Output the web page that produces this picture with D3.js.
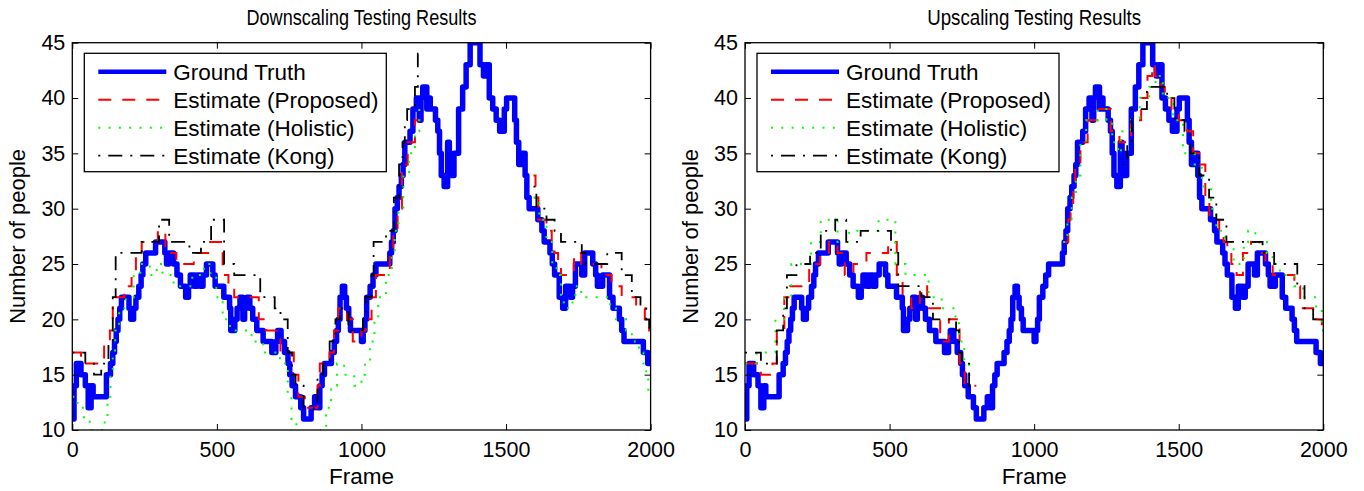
<!DOCTYPE html>
<html>
<head>
<meta charset="utf-8">
<script src="https://cdnjs.cloudflare.com/ajax/libs/d3/7.8.5/d3.min.js"></script>
<style>
body { margin: 0; background: #fff; }
svg { display: block; }
text { font-family: "Liberation Sans", Arial, Helvetica, sans-serif; fill: #000; }
</style>
</head>
<body>
<div id="divcont"></div>
<script>
// axis ticks and legend names
var frameTicks = [0, 500, 1000, 1500, 2000]
var countTicks = [10, 15, 20, 25, 30, 35, 40, 45]
var seriesNames = ["Ground Truth", "Estimate (Proposed)", "Estimate (Holistic)", "Estimate (Kong)"]
var panelTitles = ["Downscaling Testing Results", "Upscaling Testing Results"]

// [frame, count] step points, null = frames not tested
var groundTruth = [[0,11],[6,14],[14,16],[30,15],[45,14],[55,12],[65,14],[72,13],[118,15],[132,16],[140,17],[146,18],[152,19],[158,20],[164,21],[170,22],[196,21],[202,20],[212,21],[220,22],[230,23],[238,24],[244,25],[254,26],[288,27],[320,26],[326,25],[334,26],[350,25],[362,24],[374,23],[392,22],[402,23],[408,24],[422,23],[432,24],[442,23],[452,24],[464,25],[486,24],[494,23],[524,22],[544,21],[548,19],[562,20],[570,21],[580,22],[590,20],[596,21],[604,22],[614,21],[624,20],[638,19],[660,18],[690,17],[704,18],[710,19],[722,18],[734,17],[746,16],[752,15],[760,14],[772,13],[790,12],[800,11],[826,12],[838,13],[848,12],[856,14],[864,15],[872,16],[896,17],[906,18],[914,19],[920,20],[926,22],[934,23],[942,22],[948,21],[956,20],[962,19],[1000,18],[1006,19],[1012,20],[1018,22],[1030,23],[1040,24],[1050,25],[1098,26],[1104,27],[1110,28],[1116,30],[1124,31],[1130,32],[1138,33],[1144,34],[1150,36],[1168,37],[1178,39],[1190,40],[1200,38],[1206,40],[1212,41],[1226,39],[1232,40],[1238,39],[1256,38],[1264,37],[1270,35],[1276,33],[1286,32],[1298,36],[1304,33],[1320,35],[1336,39],[1350,41],[1362,43],[1376,45],[1410,43],[1422,42],[1432,43],[1442,40],[1454,39],[1466,38],[1478,37],[1494,39],[1502,40],[1530,38],[1536,36],[1544,34],[1556,35],[1566,33],[1572,31],[1580,30],[1610,29],[1624,28],[1632,27],[1652,26],[1660,25],[1668,24],[1684,22],[1696,21],[1706,23],[1722,22],[1730,23],[1740,25],[1762,24],[1772,26],[1800,25],[1810,24],[1816,23],[1834,24],[1858,22],[1870,21],[1892,20],[1900,19],[1908,18],[1975,17],[1990,16],[2000,16]]

var downProposed = [[0,17],[30,16],[110,18],[130,19],[140,22],[180,23],[205,24],[220,26],[240,27],[296,28],[322,26],[360,25],[420,26],[470,27],[520,24],[540,23],[560,22],[645,20],[670,19],[720,17],[766,15],[782,13],[804,12],[848,14],[856,16],[890,17],[905,19],[920,21],[950,20],[970,18],[1000,19],[1015,20],[1035,22],[1050,24],[1098,26],[1110,28],[1125,30],[1140,34],[1160,36],[1185,38],[1200,38],[1200,null],[1595,33],[1602,31],[1612,29],[1640,28],[1658,27],[1668,26],[1680,25],[1690,24],[1735,26],[1760,25],[1830,24],[1865,23],[1900,22],[1950,21],[1980,20],[1995,19],[2000,19]]
var downHolistic = [[0,13],[18,12],[40,11],[60,10],[112,11],[122,13],[132,15],[140,17],[148,19],[162,21],[185,22],[212,24],[235,25],[268,24],[292,25],[312,24],[350,23],[415,24],[455,25],[478,24],[498,22],[520,20],[545,19],[620,18],[660,17],[718,16],[745,13],[758,11],[775,9],[860,10],[878,12],[895,14],[915,16],[940,15],[975,14],[1000,15],[1012,16],[1030,18],[1045,20],[1058,22],[1085,24],[1105,26],[1115,28],[1128,30],[1145,33],[1165,35],[1185,37],[1200,39],[1200,null],[1595,31],[1615,29],[1640,27],[1660,25],[1675,24],[1690,22],[1700,21],[1730,22],[1740,23],[1760,22],[1860,21],[1880,20],[1915,19],[1935,18],[1960,17],[1975,16],[1985,15],[1992,13],[2000,13]]
var downKong = [[0,17],[45,16],[75,15],[100,16],[125,18],[140,22],[150,26],[240,27],[300,29],[335,27],[405,26],[445,27],[480,29],[525,25],[560,24],[650,22],[700,21],[720,20],[745,17],[760,15],[772,14],[800,12],[848,15],[868,16],[890,18],[910,20],[925,21],[955,19],[1005,20],[1015,22],[1035,24],[1042,27],[1085,28],[1100,28],[1112,31],[1130,34],[1142,36],[1150,38],[1158,39],[1185,41],[1195,44],[1200,44],[1200,null],[1595,32],[1605,30],[1640,29],[1668,28],[1690,27],[1762,26],[1775,25],[1850,26],[1900,24],[1935,22],[1965,21],[1985,20],[1995,19],[2000,19]]

var upProposed = [[0,16],[55,15],[95,16],[110,19],[136,22],[155,23],[222,25],[260,26],[290,27],[320,26],[345,24],[375,25],[420,26],[495,27],[525,24],[545,22],[575,21],[605,23],[630,21],[675,18],[705,20],[742,16],[760,14],[800,14],[800,null],[1100,27],[1118,29],[1126,30],[1135,32],[1142,34],[1160,36],[1185,38],[1225,39],[1265,37],[1295,36],[1335,38],[1370,40],[1392,42],[1408,43],[1418,42],[1440,41],[1452,40],[1475,39],[1500,38],[1530,37],[1550,35],[1575,34],[1592,31],[1606,29],[1640,28],[1655,27],[1668,26],[1682,25],[1700,24],[1722,26],[1750,27],[1780,26],[1800,25],[1825,24],[1880,24],[1900,23],[1920,21],[1965,20],[1995,19],[2000,19]]
var upHolistic = [[0,16],[40,17],[105,20],[135,22],[160,25],[228,27],[262,29],[320,27],[360,28],[462,29],[520,25],[555,24],[635,22],[680,21],[728,20],[740,18],[758,16],[775,15],[800,15],[800,null],[1100,27],[1115,29],[1130,31],[1145,33],[1160,36],[1180,38],[1220,39],[1250,38],[1270,36],[1290,35],[1300,37],[1335,38],[1365,40],[1398,41],[1420,42],[1445,40],[1480,38],[1515,35],[1555,34],[1580,32],[1612,30],[1630,28],[1660,27],[1690,25],[1725,27],[1740,28],[1765,27],[1805,26],[1825,25],[1850,24],[1900,23],[1930,22],[1975,21],[1995,19],[2000,19]]
var upKong = [[0,17],[55,16],[110,19],[132,21],[145,24],[178,25],[225,26],[262,28],[312,29],[350,27],[400,28],[505,26],[530,23],[610,22],[650,20],[730,19],[740,17],[750,16],[775,14],[800,14],[800,null],[1305,34],[1322,36],[1338,39],[1390,41],[1430,41],[1460,40],[1485,38],[1520,37],[1540,35],[1570,33],[1605,31],[1630,29],[1665,27],[1790,26],[1830,25],[1910,23],[1935,21],[1965,20],[2000,20]]

var wd = 1364
var ht = 491
var plotTop = 42.7
var plotBot = 430
var plotW = 578.3
var panelLeft = [72.3, 745]

var styles = [
  {col: "#0000ff", w: 5.5, dash: null},
  {col: "#ff0000", w: 2, dash: "13,11"},
  {col: "#00ff00", w: 2, dash: "2,8.3"},
  {col: "#000000", w: 1.8, dash: "2,8,14,8"}
]

var svg = d3.select("#divcont")
  .append("svg")
  .attr("width", wd)
  .attr("height", ht)

var yScale = d3.scaleLinear().domain([10, 45]).range([plotBot, plotTop])

function drawPanel(p, series) {
  var x0 = panelLeft[p]
  var xScale = d3.scaleLinear().domain([0, 2000]).range([x0, x0 + plotW])

  var clipId = "clip" + p
  svg.append("clipPath").attr("id", clipId)
    .append("rect")
    .attr("x", x0).attr("y", plotTop)
    .attr("width", plotW).attr("height", plotBot - plotTop)

  var line = d3.line()
    .defined(function(d) { return d[1] !== null })
    .x(function(d) { return xScale(d[0]) })
    .y(function(d) { return yScale(d[1]) })
    .curve(d3.curveStepAfter)

  var lines = svg.append("g").attr("clip-path", "url(#" + clipId + ")")
  series.forEach(function(s, i) {
    lines.append("path")
      .datum(s)
      .attr("d", line)
      .attr("fill", "none")
      .attr("stroke", styles[i].col)
      .attr("stroke-width", styles[i].w)
      .attr("stroke-linejoin", i == 0 ? "round" : "miter")
      .attr("stroke-dasharray", styles[i].dash)
  })

  // axes, ticks point inward like matlab
  var xAx = svg.append("g")
    .attr("transform", "translate(0," + plotBot + ")")
    .call(d3.axisBottom(xScale).tickValues(frameTicks).tickSize(-6).tickPadding(12).tickFormat(d3.format("d")))
  var xTop = svg.append("g")
    .attr("transform", "translate(0," + plotTop + ")")
    .call(d3.axisTop(xScale).tickValues(frameTicks).tickSize(-6).tickFormat(""))
  var yAx = svg.append("g")
    .attr("transform", "translate(" + x0 + ",0)")
    .call(d3.axisLeft(yScale).tickValues(countTicks).tickSize(-6).tickPadding(7))
  var yRight = svg.append("g")
    .attr("transform", "translate(" + (x0 + plotW) + ",0)")
    .call(d3.axisRight(yScale).tickValues(countTicks).tickSize(-6).tickFormat(""))

  svg.selectAll(".domain").attr("stroke", "none")
  svg.selectAll(".tick line").attr("stroke", "#000").attr("stroke-width", 1)
  svg.selectAll(".tick text").style("font-size", "21.5px").attr("fill", "#000")
    .style("font-family", "'Liberation Sans', Arial, sans-serif")

  svg.append("rect")
    .attr("x", x0).attr("y", plotTop)
    .attr("width", plotW).attr("height", plotBot - plotTop)
    .attr("fill", "none").attr("stroke", "#000").attr("stroke-width", 1.3)

  var cx = x0 + plotW / 2
  svg.append("text")
    .attr("x", cx).attr("y", 25)
    .attr("text-anchor", "middle")
    .attr("textLength", p == 0 ? 230 : 214)
    .attr("lengthAdjust", "spacingAndGlyphs")
    .style("font-size", "22px")
    .text(panelTitles[p])

  svg.append("text")
    .attr("x", cx).attr("y", 484)
    .attr("text-anchor", "middle")
    .style("font-size", "22.5px")
    .text("Frame")

  svg.append("text")
    .attr("transform", "translate(" + (x0 - 47) + "," + ((plotTop + plotBot) / 2) + ") rotate(-90)")
    .attr("text-anchor", "middle")
    .style("font-size", "22px")
    .text("Number of people")

  // legend
  var lg = svg.append("g").attr("transform", "translate(" + x0 + ",0)")
  lg.append("rect")
    .attr("x", 12).attr("y", 53.3)
    .attr("width", 302).attr("height", 118.4)
    .attr("fill", "#fff").attr("stroke", "#000").attr("stroke-width", 1.3)

  seriesNames.forEach(function(name, i) {
    var ly = 71.7 + i * 28
    lg.append("line")
      .attr("x1", 26).attr("x2", 94)
      .attr("y1", ly).attr("y2", ly)
      .attr("stroke", styles[i].col)
      .attr("stroke-width", i == 0 ? 4.5 : styles[i].w)
      .attr("stroke-dasharray", styles[i].dash)
    lg.append("text")
      .attr("x", 101).attr("y", ly)
      .attr("dy", "0.36em")
      .style("font-size", "22.5px")
      .text(name)
  })
}

drawPanel(0, [groundTruth, downProposed, downHolistic, downKong])
drawPanel(1, [groundTruth, upProposed, upHolistic, upKong])
</script>
</body>
</html>
